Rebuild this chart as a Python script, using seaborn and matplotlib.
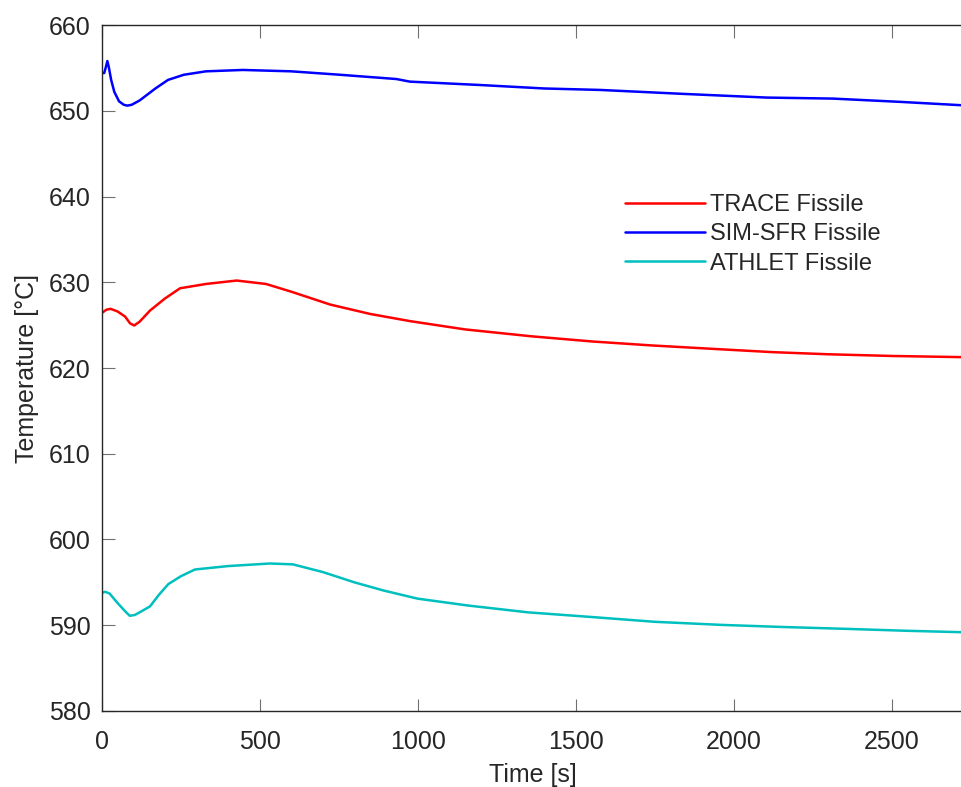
import numpy as np
import pandas as pd
import matplotlib
matplotlib.use("Agg")
import matplotlib.pyplot as plt
import seaborn as sns

# Time [s] and temperature [°C]
trace_t = [0, 15, 28, 50, 74, 90, 103, 120, 153, 200, 248, 330, 427, 520, 600, 723, 850, 977, 1150, 1359, 1550, 1741, 1950, 2123, 2300, 2505, 2719]
trace_v = [626.4, 626.8, 626.9, 626.6, 626.0, 625.2, 624.96, 625.4, 626.7, 628.1, 629.3, 629.8, 630.2, 629.8, 628.9, 627.4, 626.3, 625.46, 624.5, 623.7, 623.1, 622.63, 622.2, 621.85, 621.6, 621.4, 621.27]

simsfr_t = [0, 8, 14, 18, 22, 30, 40, 55, 70, 81, 95, 120, 170, 210, 260, 330, 447, 600, 754, 933, 975, 1200, 1400, 1577, 1840, 2104, 2314, 2526, 2719]
simsfr_v = [654.4, 654.4, 655.2, 655.8, 655.2, 653.6, 652.2, 651.1, 650.7, 650.6, 650.7, 651.2, 652.6, 653.6, 654.2, 654.6, 654.76, 654.6, 654.2, 653.7, 653.4, 653.0, 652.6, 652.43, 651.97, 651.54, 651.42, 651.04, 650.65]

athlet_t = [0, 11, 25, 50, 75, 89, 105, 120, 153, 180, 211, 250, 295, 400, 532, 605, 700, 800, 894, 1000, 1161, 1350, 1561, 1750, 1962, 2150, 2362, 2550, 2719]
athlet_v = [593.76, 593.9, 593.7, 592.6, 591.6, 591.1, 591.2, 591.5, 592.2, 593.5, 594.8, 595.7, 596.5, 596.9, 597.2, 597.1, 596.2, 595.0, 594.03, 593.1, 592.29, 591.5, 590.93, 590.4, 590.04, 589.8, 589.57, 589.35, 589.19]

labels = ["TRACE Fissile", "SIM-SFR Fissile", "ATHLET Fissile"]
colors = ["#ff0000", "#0000ff", "#00bfbf"]

frames = []
for lab, t, v in zip(labels, [trace_t, simsfr_t, athlet_t], [trace_v, simsfr_v, athlet_v]):
    frames.append(pd.DataFrame({"time": t, "temp": v, "series": lab}))
df = pd.concat(frames, ignore_index=True)

sns.set_style("white")
plt.rcParams["font.family"] = ["Liberation Sans", "DejaVu Sans"]

fig = plt.figure(figsize=(9.61, 7.87), dpi=100)
ax = fig.add_axes([0.1058, 0.0966, 0.8977, 0.8716])

sns.lineplot(data=df, x="time", y="temp", hue="series", hue_order=labels,
             palette=dict(zip(labels, colors)), estimator=None, sort=False,
             linewidth=1.8, ax=ax)

ax.set_xlim(0, 2730)
ax.set_ylim(580, 660)
ax.set_xticks([0, 500, 1000, 1500, 2000, 2500])
ax.set_yticks(np.arange(580, 661, 10))
ax.set_xlabel("Time [s]", fontsize=18, color="#262626", labelpad=6)
ax.set_ylabel("Temperature [°C]", fontsize=18, color="#262626", labelpad=7)

ax.tick_params(direction="in", length=9, width=0.8, color="#707070", labelcolor="#262626",
               labelsize=18, top=True, bottom=True, left=True, right=False)
ax.tick_params(axis="x", pad=14)
ax.tick_params(axis="y", pad=8)
for s in ["left", "bottom", "top"]:
    ax.spines[s].set_color("#262626")
    ax.spines[s].set_linewidth(1.0)
ax.spines["right"].set_visible(False)

ax.legend(loc="upper left", bbox_to_anchor=(0.650, 0.7536), bbox_transform=fig.transFigure,
          frameon=False, fontsize=17, handlelength=3.4, handletextpad=0.22,
          labelspacing=0.31, borderpad=0, borderaxespad=0)

fig.savefig("out.png", dpi=100)
